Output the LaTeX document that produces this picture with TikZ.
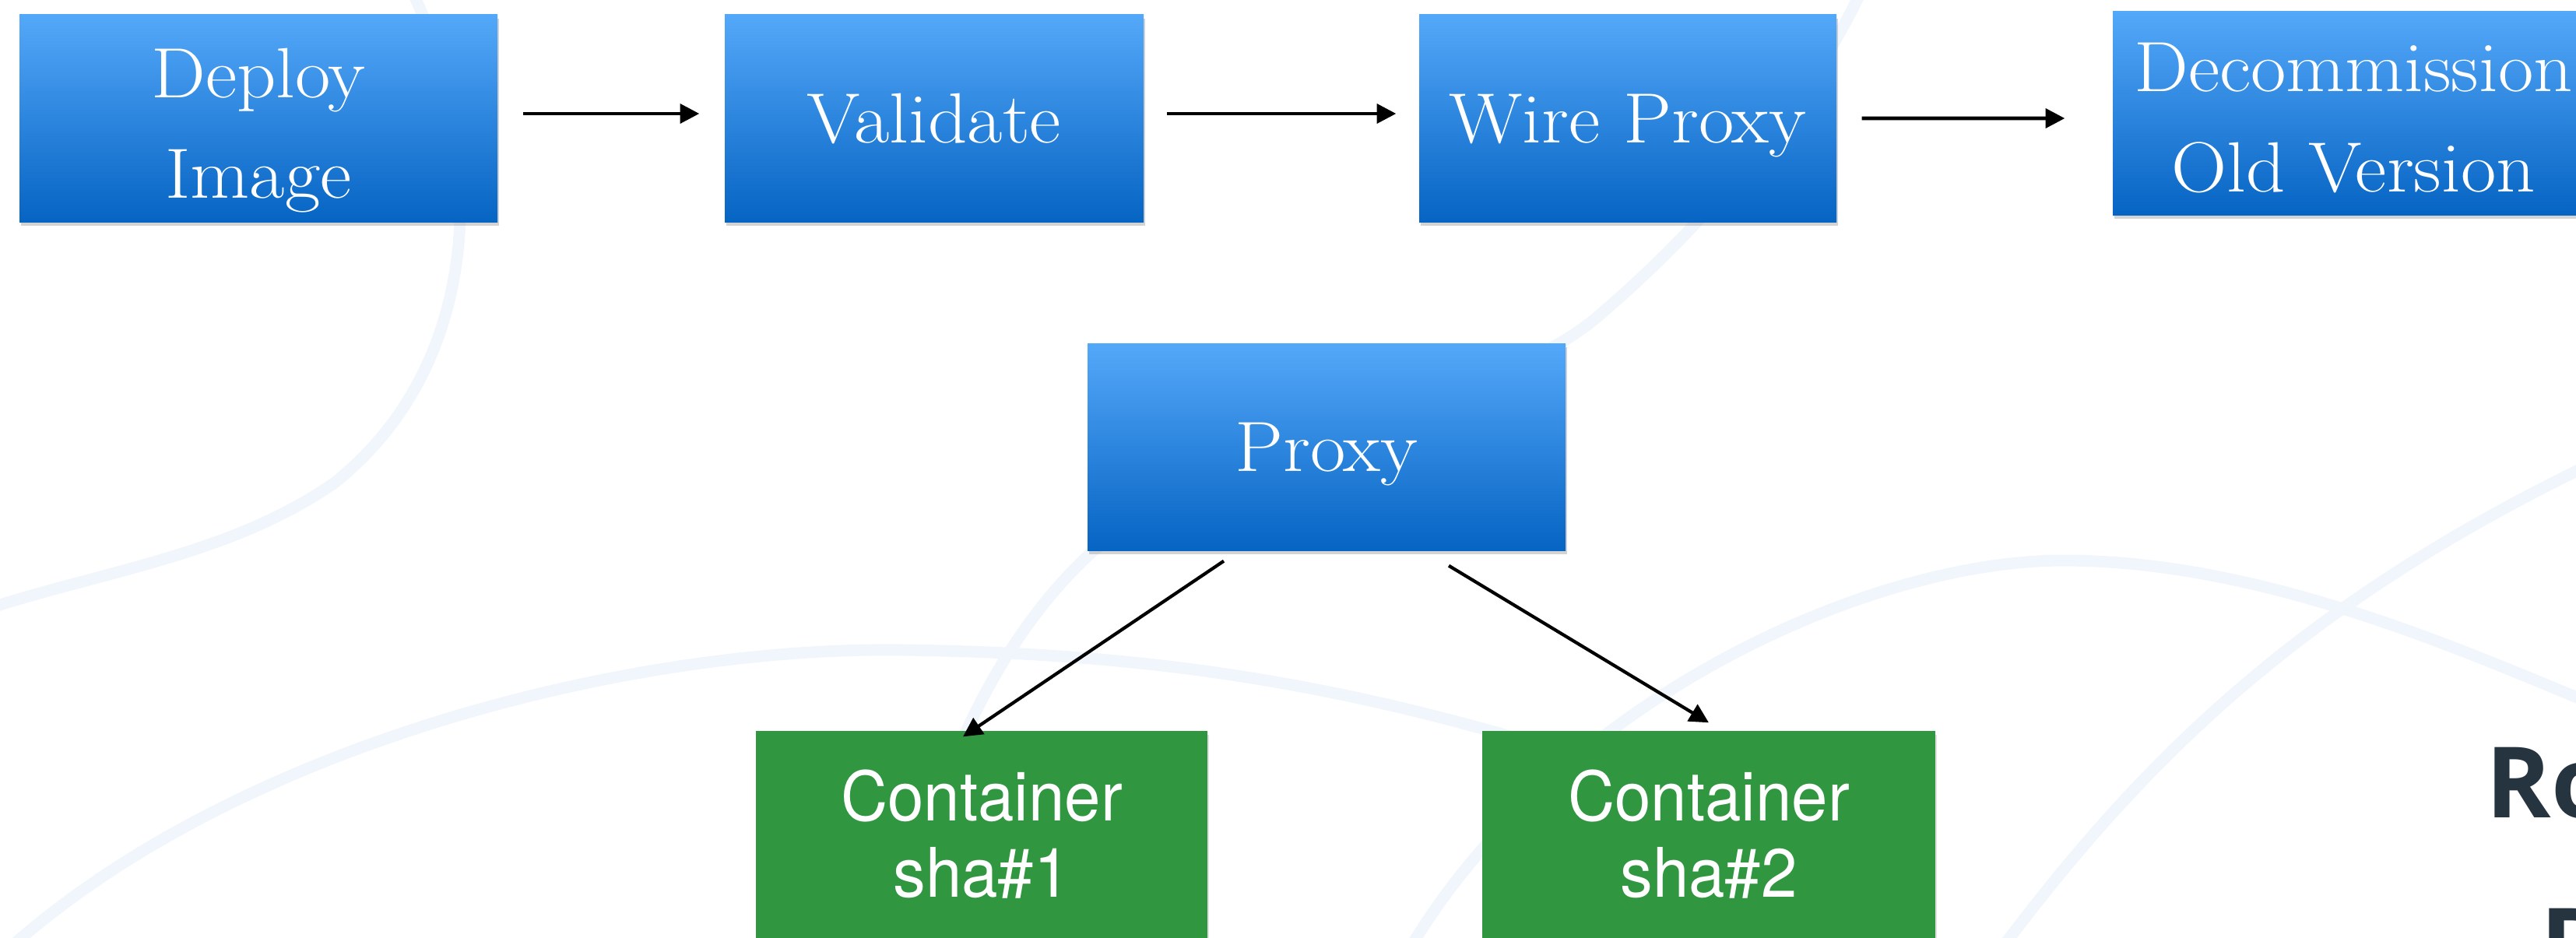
\documentclass[tikz,border=0pt]{standalone}
\usepackage{fontspec}
\newfontfamily\boxfont[FakeStretch=1.08]{Latin Modern Roman}
\newfontfamily\contfont[FakeStretch=0.95]{TeX Gyre Heros}
\newfontfamily\titlefont{Open Sans}
\usetikzlibrary{arrows.meta,shadows}
\definecolor{boxtop}{RGB}{84,168,249}
\definecolor{boxbot}{RGB}{6,100,195}
\definecolor{contgreen}{RGB}{48,150,64}
\definecolor{swirlblue}{RGB}{241,246,253}
\definecolor{titlegray}{RGB}{38,52,64}

\begin{document}
\begin{tikzpicture}
		[	box/.style={rectangle, top color=boxtop, bottom color=boxbot, text=white, inner sep=0pt,
			minimum height=2.66cm, align=center, font=\boxfont\fontsize{26}{36.7}\selectfont,
			drop shadow={shadow xshift=.02cm, shadow yshift=-.05cm, opacity=.35}},
		oneline/.style={text depth=0pt},
		cont/.style={rectangle, fill=contgreen, text=white, inner sep=0pt,
			minimum height=2.66cm, align=center, font=\contfont\fontsize{25}{27.9}\selectfont,
			drop shadow={shadow xshift=.02cm, shadow yshift=-.05cm, opacity=.25}},
		swirl/.style={draw=swirlblue, line width=.15cm},
		title/.style={font=\titlefont\bfseries\fontsize{36}{43}\selectfont, text=titlegray, anchor=base west, inner sep=0pt},
		>={Triangle[length=7pt,width=7pt]}
		]
		\useasboundingbox (0,0) rectangle (33.09,-12.04);
		\clip (0,0) rectangle (33.09,-12.04);

		% background swirls
		\draw[swirl] (5.3,0.1) .. controls (6.2,-1.8) and (6.3,-4.6) .. (4.3,-6.2) .. controls (3.0,-7.1) and (1.5,-7.3) .. (-0.1,-7.8);
		\draw[swirl] (0.1,-12.2) .. controls (3,-9.6) and (8,-8.3) .. (11.6,-8.35) .. controls (15,-8.4) and (18,-8.8) .. (22.5,-10.5);
		\draw[swirl] (11.5,-12.2) .. controls (12.2,-9.0) and (13.5,-7.2) .. (15,-6.4) .. controls (17.5,-5.2) and (19.5,-5.0) .. (20.6,-4.0) .. controls (22,-2.8) and (23.3,-1.2) .. (23.9,0.1);
		\draw[swirl] (18.1,-12.2) .. controls (20,-9) and (24,-7.2) .. (26.5,-7.2) .. controls (29,-7.2) and (31.5,-8.3) .. (33.2,-9.0);
		\draw[swirl] (25.7,-12.2) .. controls (27.5,-9.8) and (29.5,-7.8) .. (33.2,-6.0);

		\node[box, minimum width=6.14cm] (dep) at (3.32,-1.52) {\rule{0pt}{27pt}Deploy\\Image};
		\node[box, oneline, minimum width=5.38cm] (val) at (12.00,-1.52) {Validate};
		\node[box, oneline, minimum width=5.36cm] (wire) at (20.91,-1.52) {Wire Proxy};
		\node[box, minimum width=6.18cm, minimum height=2.61cm] (dec) at (30.23,-1.455) {\rule{0pt}{21pt}Decommission\\Old Version};

		\node[box, oneline, minimum width=6.14cm] (proxy) at (17.04,-5.74) {Proxy};
		\node[cont, minimum width=5.80cm] (c1) at (12.61,-10.72) {Container\\sha\#1};
		\node[cont, minimum width=5.82cm] (c2) at (21.95,-10.72) {Container\\sha\#2};

		\draw[->, line width=1.3pt] ([xshift=.32cm,yshift=.06cm]dep.east) -- ([xshift=-.32cm,yshift=.06cm]val.west);
		\draw[->, line width=1.3pt] ([xshift=.29cm,yshift=.06cm]val.east) -- ([xshift=-.29cm,yshift=.06cm]wire.west);
		\draw[->, line width=1.3pt] ([xshift=.32cm]wire.east) -- ([xshift=-.61cm,yshift=-.065cm]dec.west);
		\draw[->, line width=1.2pt] ([xshift=-1.32cm,yshift=-.13cm]proxy.south) -- ([xshift=-.24cm,yshift=-.08cm]c1.north);
		\draw[->, line width=1.2pt] ([xshift=1.57cm,yshift=-.19cm]proxy.south) -- ([yshift=.10cm]c2.north);

		\node[title] (ttlA) at (31.93,-10.50) {Ro};
		\node[title] (ttlB) at (32.63,-12.57) {D};
	\end{tikzpicture}
\end{document}
